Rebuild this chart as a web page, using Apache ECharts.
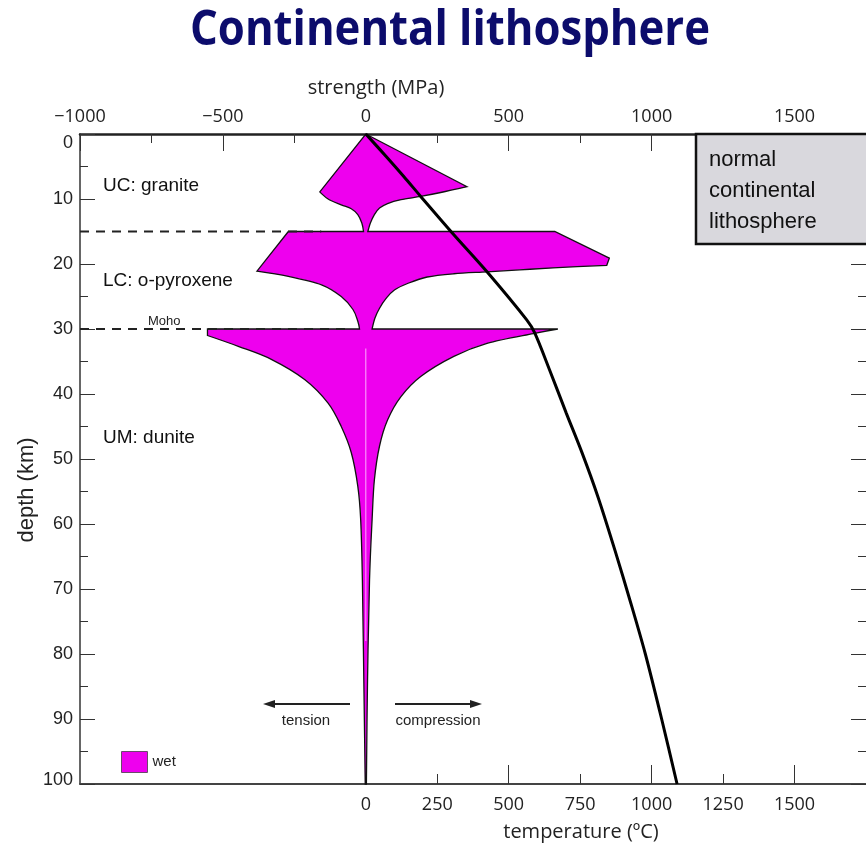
<!DOCTYPE html>
<html>
<head>
<meta charset="utf-8">
<script src="https://cdn.jsdelivr.net/npm/echarts@6/dist/echarts.min.js"></script>
<style>
  html, body { margin: 0; padding: 0; background: #ffffff; }
  #chart { width: 866px; height: 850px; }
</style>
</head>
<body>
<div id="chart"></div>
<script>
// Strength axis (top) and temperature axis (bottom) share one horizontal scale
const strengthLabels = [-1000, -500, 0, 500, 1000, 1500];
const temperatureLabels = [0, 250, 500, 750, 1000, 1250, 1500];
const temperatureMajorTicks = [0, 500, 1000, 1500];
const temperatureMinorTicks = [250, 750, 1250];

// Layer boundaries (km) and layer names
const boundaryDepths = [15, 30];
const boundaryDashEnd = [-156, -52];   // MPa where each dashed boundary stops
const layerNames = ['UC: granite', 'LC: o-pyroxene', 'UM: dunite'];

// Strength envelope, wet rheology: [strength MPa, depth km]
const compressionBranch = [
  [0, 0], [354, 8.1], [262, 9.0], [192, 9.6], [123, 10.1], [76, 10.7], [48, 11.4],
  [30, 12.4], [16, 13.7], [9, 14.7], [7, 15],
  [661, 15], [852, 19.1], [843, 20.2], [655, 20.6], [539, 20.9], [424, 21.2],
  [308, 21.5], [215, 22.0], [146, 23.0], [100, 24.0], [71, 25.3], [48, 26.8],
  [32, 28.3], [22, 30],
  [672, 30], [586, 30.7], [424, 32.2], [308, 34.2], [192, 37.3], [123, 40.4],
  [76, 44], [48, 48], [30, 53.2], [22, 59.3], [13, 68.6], [6, 84], [2, 100]
];
const tensionBranch = [
  [0, 0], [-161, 8.9], [-132, 10.0], [-86, 10.9], [-51, 11.5], [-28, 12.4],
  [-14, 13.7], [-8, 15],
  [-271, 15], [-381, 21.1], [-271, 21.9], [-155, 23.2], [-86, 25.0], [-45, 27.0],
  [-28, 28.8], [-22, 30],
  [-554, 30], [-554, 31], [-444, 32.7], [-329, 34.7], [-213, 37.8], [-132, 41.4],
  [-86, 45], [-51, 49], [-28, 54.2], [-18, 59.3], [-12, 68.6], [-7, 84], [-2, 100]
];

// Geotherm: depth (km) and temperature (degC)
const geothermDepth = [0, 3.5, 6.5, 9.6, 15.5, 21.2, 28.6, 30.6, 36.3, 42.9, 49.1, 55.8, 64.1, 72.3, 80, 90, 100];
const geothermTemp  = [0, 72, 132, 192, 308, 424, 563, 591, 643, 701, 757, 812, 872, 928, 978, 1035, 1089];

const MAGENTA = '#ee00ee';
const SANS = "'Liberation Sans', Arial, sans-serif";
const LABEL_FONT = "'Open Sans', sans-serif";

// closed outline: down the compression side, back up the tension side
const envelopeOutline = compressionBranch.concat(tensionBranch.slice().reverse());

// Path through the outline: sharp at layer steps and abrupt turns,
// Catmull-Rom curves along the creep-law branches.
function outlinePath(pts) {
  const n = pts.length;
  const sharp = pts.map((p, i) => {
    const a = pts[(i - 1 + n) % n], b = pts[(i + 1) % n];
    if (Math.abs(a[1] - p[1]) < 0.5 || Math.abs(b[1] - p[1]) < 0.5) return true;
    const d1 = [p[0] - a[0], p[1] - a[1]], d2 = [b[0] - p[0], b[1] - p[1]];
    const l1 = Math.hypot(d1[0], d1[1]), l2 = Math.hypot(d2[0], d2[1]);
    if (l1 < 1e-6 || l2 < 1e-6) return true;
    const cos = (d1[0] * d2[0] + d1[1] * d2[1]) / (l1 * l2);
    return cos < Math.cos(Math.PI / 6);
  });
  let d = 'M' + pts[0][0] + ' ' + pts[0][1];
  for (let i = 0; i < n; i++) {
    const p0 = pts[(i - 1 + n) % n], p1 = pts[i], p2 = pts[(i + 1) % n], p3 = pts[(i + 2) % n];
    const s1 = sharp[i], s2 = sharp[(i + 1) % n];
    const c1 = s1 ? p1 : [p1[0] + (p2[0] - p0[0]) / 6, p1[1] + (p2[1] - p0[1]) / 6];
    const c2 = s2 ? p2 : [p2[0] - (p3[0] - p1[0]) / 6, p2[1] - (p3[1] - p1[1]) / 6];
    d += ' C' + c1[0] + ' ' + c1[1] + ' ' + c2[0] + ' ' + c2[1] + ' ' + p2[0] + ' ' + p2[1];
  }
  return d + ' Z';
}

const chart = echarts.init(document.getElementById('chart'), null, { renderer: 'canvas' });

const baseX = { type: 'value', min: -1000, max: 1750, splitLine: { show: false } };

const option = {
  animation: false,
  backgroundColor: '#ffffff',
  grid: { left: 80, top: 134, width: 792, height: 650, containLabel: false },
  legend: {
    data: ['wet'],
    left: 116, top: 746,
    icon: 'rect', itemWidth: 26, itemHeight: 21, itemGap: 6,
    itemStyle: { color: MAGENTA, borderColor: '#6b4a6b', borderWidth: 1 },
    textStyle: { fontFamily: SANS, fontSize: 15, color: '#222' },
    selectedMode: false
  },
  xAxis: [
    Object.assign({}, baseX, {
      position: 'top', interval: 500,
      axisLine: { onZero: false, lineStyle: { color: '#222', width: 2.5 } },
      axisTick: { inside: true, length: 17, lineStyle: { color: '#333', width: 1 } },
      minorTick: { show: true, splitNumber: 2, length: 9, lineStyle: { color: '#333', width: 1 } },
      axisLabel: {
        margin: 8, fontSize: 18, color: '#222', fontFamily: LABEL_FONT, showMaxLabel: false,
        formatter: v => strengthLabels.includes(v) ? String(v).replace('-', '\u2212') : ''
      }
    }),
    Object.assign({}, baseX, {
      position: 'bottom', interval: 250,
      axisLine: { onZero: false, lineStyle: { color: '#444', width: 2 } },
      axisTick: { inside: true, length: 19, customValues: temperatureMajorTicks, lineStyle: { color: '#333', width: 1 } },
      axisLabel: {
        margin: 12, fontSize: 18, color: '#222', fontFamily: LABEL_FONT,
        customValues: temperatureLabels, formatter: v => String(v)
      }
    }),
    Object.assign({}, baseX, {
      position: 'bottom', interval: 250,
      axisLine: { onZero: false, show: false },
      axisTick: { inside: true, length: 10, customValues: temperatureMinorTicks, lineStyle: { color: '#333', width: 1 } },
      axisLabel: { show: false }
    })
  ],
  yAxis: [
    {
      type: 'value', inverse: true, min: 0, max: 100, interval: 10, position: 'left',
      splitLine: { show: false },
      axisLine: { onZero: false, lineStyle: { color: '#333', width: 1.5 } },
      axisTick: { inside: true, length: 15, lineStyle: { color: '#333', width: 1 } },
      minorTick: { show: true, splitNumber: 2, length: 8, lineStyle: { color: '#333', width: 1 } },
      axisLabel: {
        margin: 7, fontSize: 18, color: '#222', fontFamily: SANS,
        formatter: v => v === 0 ? '{first|0}' : (v === 100 ? '{last|100}' : String(v)),
        rich: {
          first: { fontSize: 18, fontFamily: SANS, color: '#222', padding: [18, 0, 0, 0] },
          last: { fontSize: 18, fontFamily: SANS, color: '#222', padding: [0, 0, 8, 0] }
        }
      }
    },
    {
      type: 'value', inverse: true, min: 0, max: 100, interval: 10, position: 'right',
      splitLine: { show: false },
      axisLine: { onZero: false, show: false },
      axisTick: { inside: true, length: 15, lineStyle: { color: '#333', width: 1 } },
      minorTick: { show: true, splitNumber: 2, length: 8, lineStyle: { color: '#333', width: 1 } },
      axisLabel: { show: false }
    }
  ],
  series: [
    {
      name: 'wet',
      type: 'custom',
      xAxisIndex: 0, yAxisIndex: 0,
      itemStyle: { color: MAGENTA },
      data: envelopeOutline,
      encode: { x: 0, y: 1 },
      z: 2,
      renderItem: function (params, api) {
        if (params.dataIndex !== 0) return null;
        const pts = envelopeOutline.map(p => api.coord(p));
        return {
          type: 'path',
          shape: { pathData: outlinePath(pts) },
          style: { fill: MAGENTA, stroke: '#111', lineWidth: 1.3, lineJoin: 'miter' }
        };
      }
    },
    {
      // faint centre seam inside the mantle lobe
      type: 'line', xAxisIndex: 0, yAxisIndex: 0, symbol: 'none', silent: true, z: 3,
      lineStyle: { color: 'rgba(255,190,255,0.9)', width: 1 },
      data: [[0, 33], [0, 78]]
    },
    ...boundaryDepths.map((d, i) => ({
      type: 'line', xAxisIndex: 0, yAxisIndex: 0, symbol: 'none', silent: true, z: 4,
      lineStyle: { color: '#222', width: 2, type: [9, 7] },
      data: [[-1000, d], [boundaryDashEnd[i], d]]
    })),
    {
      name: 'geotherm',
      type: 'line', xAxisIndex: 1, yAxisIndex: 0, symbol: 'none', z: 5,
      smooth: 0.3,
      lineStyle: { color: '#000', width: 3 },
      data: geothermDepth.map((d, i) => [geothermTemp[i], d])
    }
  ],
  graphic: [
    { type: 'text', x: 450, y: 31, scaleX: 0.91, style: { text: 'Continental lithosphere', font: "bold 48px 'Open Sans'", fill: '#0c0c6c', align: 'center', verticalAlign: 'middle' } },
    { type: 'text', x: 376, y: 88, style: { text: 'strength (MPa)', font: "20px " + LABEL_FONT, fill: '#222', align: 'center', verticalAlign: 'middle' } },
    { type: 'text', x: 581, y: 832, style: { text: 'temperature (\u00baC)', font: "20px " + LABEL_FONT, fill: '#222', align: 'center', verticalAlign: 'middle' } },
    { type: 'text', x: 27, y: 490, rotation: Math.PI / 2, style: { text: 'depth (km)', font: "22px " + SANS, fill: '#222', align: 'center', verticalAlign: 'middle' } },
    { type: 'text', x: 103, y: 186, style: { text: layerNames[0], font: "19px " + SANS, fill: '#111', verticalAlign: 'middle' } },
    { type: 'text', x: 103, y: 281, style: { text: layerNames[1], font: "19px " + SANS, fill: '#111', verticalAlign: 'middle' } },
    { type: 'text', x: 103, y: 438, style: { text: layerNames[2], font: "19px " + SANS, fill: '#111', verticalAlign: 'middle' } },
    { type: 'text', x: 148, y: 321, style: { text: 'Moho', font: "13px " + SANS, fill: '#222', verticalAlign: 'middle' } },
    { type: 'text', x: 306, y: 721, style: { text: 'tension', font: "15px " + SANS, fill: '#222', align: 'center', verticalAlign: 'middle' } },
    { type: 'text', x: 438, y: 721, style: { text: 'compression', font: "15px " + SANS, fill: '#222', align: 'center', verticalAlign: 'middle' } },
    { type: 'line', shape: { x1: 350, y1: 704, x2: 272, y2: 704 }, style: { stroke: '#222', lineWidth: 2 } },
    { type: 'polygon', shape: { points: [[263, 704], [275, 700], [275, 708]] }, style: { fill: '#222' } },
    { type: 'line', shape: { x1: 395, y1: 704, x2: 473, y2: 704 }, style: { stroke: '#222', lineWidth: 2 } },
    { type: 'polygon', shape: { points: [[482, 704], [470, 700], [470, 708]] }, style: { fill: '#222' } },
    { type: 'rect', z: 100, shape: { x: 696, y: 134, width: 190, height: 110 }, style: { fill: '#d9d8dd', stroke: '#111', lineWidth: 2.5 } },
    { type: 'text', z: 101, x: 709, y: 160, style: { text: 'normal', font: "22px " + SANS, fill: '#111', verticalAlign: 'middle' } },
    { type: 'text', z: 101, x: 709, y: 191, style: { text: 'continental', font: "22px " + SANS, fill: '#111', verticalAlign: 'middle' } },
    { type: 'text', z: 101, x: 709, y: 222, style: { text: 'lithosphere', font: "22px " + SANS, fill: '#111', verticalAlign: 'middle' } }
  ]
};

chart.setOption(option);
</script>
</body>
</html>
